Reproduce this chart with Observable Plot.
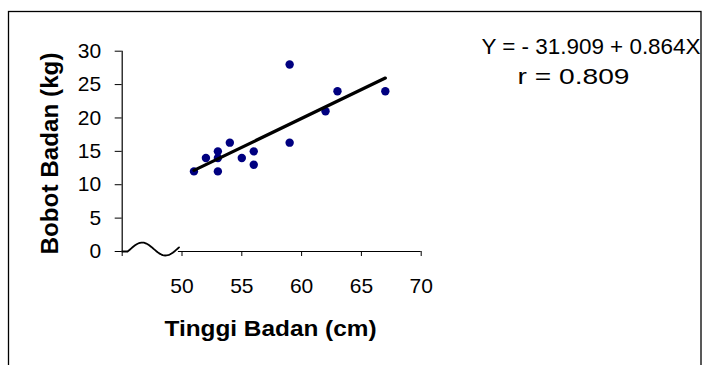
<!DOCTYPE html>
<html><head><meta charset="utf-8">
<script src="https://cdn.jsdelivr.net/npm/d3@7"></script>
<script src="https://cdn.jsdelivr.net/npm/@observablehq/plot@0.6"></script>
<style>body{margin:0;background:#fff}</style>
</head><body><div id="chart"></div>
<script>
// Data
const tinggi = [51, 52, 53, 53, 53, 54, 55, 56, 56, 59, 59, 62, 63, 67];
const bobot  = [12, 14, 15, 14, 12, 16.3, 14, 15, 13, 16.3, 28, 21, 24, 24];
const xTicks = [45, 50, 55, 60, 65, 70];
const yTicks = [0, 5, 10, 15, 20, 25, 30];
const intercept = -31.909, slope = 0.864;
const xTitle = "Tinggi Badan (cm)";
const yTitle = "Bobot Badan (kg)";
const eq1 = "Y = - 31.909 + 0.864X";
const eq2 = "r = 0.809";

const points = tinggi.map((x, i) => ({x, y: bobot[i]}));
const fit = d3.extent(tinggi).map(x => ({x, y: intercept + slope * x}));

// axis-break squiggle (decoration)
const waveStart = 45.55, waveEnd = 49.75;
const wave = [{x: 45, y: 0}, {x: 45.45, y: 0}].concat(
  d3.range(0, 41).map(i => {
    const x = waveStart + (waveEnd - waveStart) * i / 40;
    return {x, y: 0.37 + 0.97 * Math.cos(Math.PI * (x - 46.67) / 1.95)};
  })
);

const font = "'Liberation Sans', Arial, Helvetica, sans-serif";

const plot = Plot.plot({
  width: 703, height: 365,
  marginLeft: 121.7, marginRight: 282.3, marginTop: 50.7, marginBottom: 114,
  x: {domain: [45, 70]},
  y: {domain: [0, 30]},
  style: {fontFamily: font, color: "#000", background: "#fff", overflow: "visible"},
  marks: [
    Plot.axisY({ticks: yTicks, tickSize: 7, tickPadding: 14, fontSize: 21, label: null, tickFormat: d => String(d)}),
    Plot.axisX({ticks: xTicks, tickSize: 5, tickPadding: 22, fontSize: 21, label: null, tickFormat: d => d === 45 ? "" : String(d)}),
    Plot.ruleX([45], {y1: 0, y2: 30, stroke: "#000", strokeWidth: 1.2}),
    Plot.ruleY([0], {x1: waveEnd - 0.05, x2: 70, stroke: "#000", strokeWidth: 1.2}),
    Plot.line(wave, {x: "x", y: "y", stroke: "#000", strokeWidth: 1.8, curve: "linear"}),
    Plot.dot(points, {x: "x", y: "y", r: 4.2, fill: "#000080", stroke: null}),
    Plot.line(fit, {x: "x", y: "y", stroke: "#000", strokeWidth: 3.2}),
    Plot.text([eq1], {text: d => d, frameAnchor: "top-left", dx: 481 - 121.7, dy: 53 - 50.7, lineAnchor: "bottom", textAnchor: "start", fontSize: 22, className: "eq1"}),
    Plot.text([eq2], {text: d => d, frameAnchor: "top-left", dx: 573 - 121.7, dy: 83 - 50.7, lineAnchor: "bottom", textAnchor: "middle", fontSize: 22, className: "eq2"}),
    Plot.text([xTitle], {text: d => d, frameAnchor: "bottom", dx: 270 - 271.2, dy: 335 - 251, lineAnchor: "bottom", fontSize: 22, fontWeight: "bold", className: "xt"}),
    Plot.text([yTitle], {text: d => d, frameAnchor: "left", dx: 58 - 121.7, dy: 153 - 150.85, lineAnchor: "bottom", textAnchor: "middle", rotate: -90, fontSize: 24, fontWeight: "bold", className: "yt"})
  ]
});

const svg = d3.select(plot);
const fitLen = (cls, len) => svg.selectAll("." + cls + " text").attr("textLength", len).attr("lengthAdjust", "spacingAndGlyphs");
fitLen("eq1", 219);
fitLen("eq2", 112);
fitLen("xt", 212);
fitLen("yt", 202);
svg.append("rect").attr("x", 8.5).attr("y", 11.5).attr("width", 692.5).attr("height", 420)
  .attr("fill", "none").attr("stroke", "#000").attr("stroke-width", 1.3);

document.getElementById("chart").appendChild(plot);
</script>
</body></html>
